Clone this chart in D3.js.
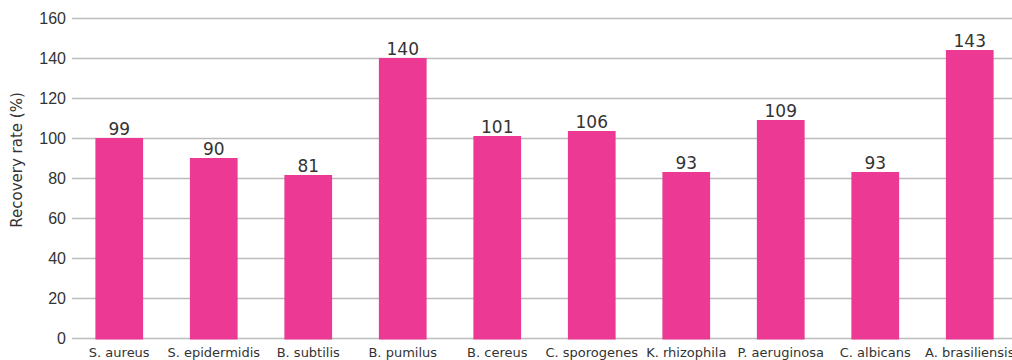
<!DOCTYPE html>
<html>
<head>
<meta charset="utf-8">
<script src="https://cdn.jsdelivr.net/npm/d3@7"></script>
<style>
  html, body { margin: 0; padding: 0; background: #fff; }
  svg { display: block; font-family: "DejaVu Sans", Verdana, sans-serif; }
</style>
</head>
<body>
<div id="chart"></div>
<script>
// data
const categories = ["S. aureus", "S. epidermidis", "B. subtilis", "B. pumilus", "B. cereus",
  "C. sporogenes", "K. rhizophila", "P. aeruginosa", "C. albicans", "A. brasiliensis"];
// bar heights as drawn
const barValues = [100, 90, 81.5, 140, 101, 103.5, 83, 109, 83, 144];
// numbers printed above the bars
const barLabels = ["99", "90", "81", "140", "101", "106", "93", "109", "93", "143"];
const yTicks = [0, 20, 40, 60, 80, 100, 120, 140, 160];

const width = 1012, height = 360;
const plotLeft = 72, plotRight = 1017, plotTop = 18, plotBottom = 338;

const svg = d3.select("#chart").append("svg")
  .attr("width", width)
  .attr("height", height);

const x = d3.scaleBand()
  .domain(categories)
  .range([plotLeft, plotRight])
  .paddingInner(0.495)
  .paddingOuter(0.2475);

const y = d3.scaleLinear()
  .domain([0, 160])
  .range([plotBottom, plotTop]);

// gridlines + tick labels
const yAxis = svg.append("g")
  .attr("transform", "translate(" + plotLeft + ",0)")
  .call(d3.axisLeft(y).tickValues(yTicks).tickSize(-(plotRight - plotLeft)).tickPadding(6));
yAxis.select(".domain").remove();
yAxis.selectAll(".tick line").attr("stroke", "#bdbdbd").attr("stroke-width", 1.3);
yAxis.selectAll(".tick text")
  .attr("fill", "#333")
  .style("font-size", "16px");

// bars
svg.append("g")
  .selectAll("rect")
  .data(categories)
  .enter().append("rect")
  .attr("x", d => x(d))
  .attr("width", x.bandwidth())
  .attr("y", (d, i) => y(barValues[i]))
  .attr("height", (d, i) => y(0) - y(barValues[i]) + 1.5)
  .attr("fill", "#ec3994");

// value labels
svg.append("g")
  .selectAll("text")
  .data(categories)
  .enter().append("text")
  .attr("x", d => x(d) + x.bandwidth() / 2)
  .attr("y", (d, i) => y(barValues[i]) - 3)
  .attr("text-anchor", "middle")
  .attr("fill", "#333")
  .style("font-size", "17px")
  .text((d, i) => barLabels[i]);

// category labels
svg.append("g")
  .selectAll("text")
  .data(categories)
  .enter().append("text")
  .attr("x", d => x(d) + x.bandwidth() / 2)
  .attr("y", 357)
  .attr("text-anchor", "middle")
  .attr("fill", "#333")
  .style("font-size", "13px")
  .text(d => d);

// y axis title
svg.append("text")
  .attr("transform", "translate(22,160) rotate(-90)")
  .attr("text-anchor", "middle")
  .attr("fill", "#333")
  .style("font-size", "15px")
  .text("Recovery rate (%)");
</script>
</body>
</html>
